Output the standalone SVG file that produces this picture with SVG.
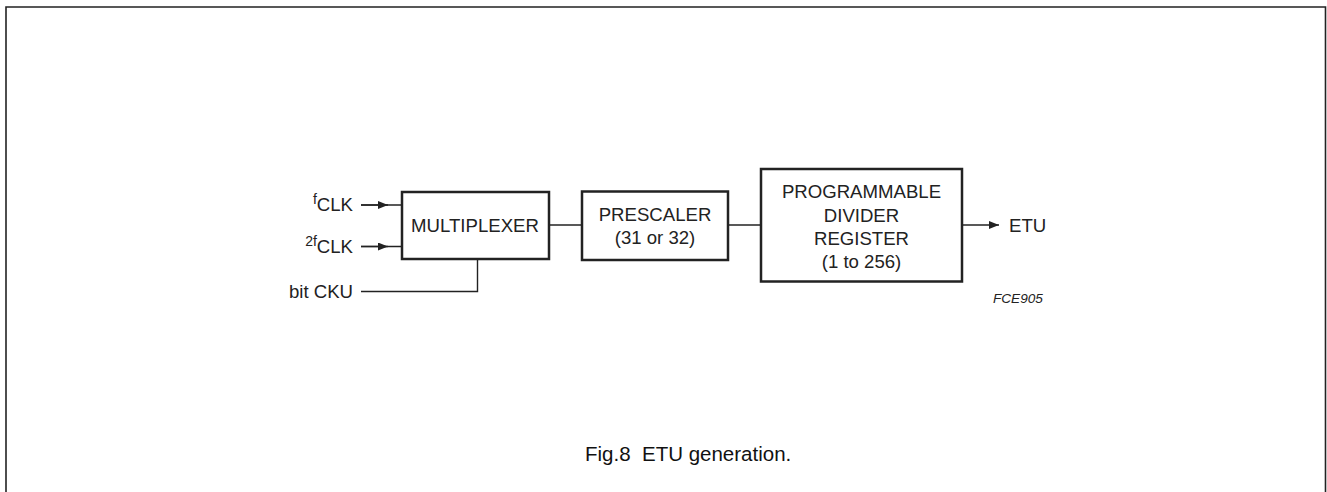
<svg xmlns="http://www.w3.org/2000/svg" width="1327" height="492" viewBox="0 0 1327 492">
<style>
.box{fill:#fff;stroke:#222;stroke-width:2.5}
.ln{fill:none;stroke:#222;stroke-width:1.4}
text{font-family:"Liberation Sans",Arial,sans-serif;fill:#222}
.t{font-size:18.6px}
.sup{font-size:14px}
.c{text-anchor:middle}
.code{font-size:13.6px;font-style:italic}
.cap{font-size:20.5px;white-space:pre;fill:#111}
</style>
<defs>
<marker id="ah" viewBox="0 0 10 8" refX="10" refY="4" markerWidth="10" markerHeight="8" markerUnits="userSpaceOnUse" orient="auto">
<path d="M0,0 L10,4 L0,8 Z" fill="#222"/>
</marker>
</defs>
<rect width="1327" height="492" fill="#fff"/>
<path d="M6,492 V7 H1325.5 V492" fill="none" stroke="#222" stroke-width="1.6"/>
<g id="connectors">
<path class="ln" d="M361,205 H402"/>
<path class="ln" d="M361,205 H388" marker-end="url(#ah)"/>
<path class="ln" d="M361,246.5 H402"/>
<path class="ln" d="M361,246.5 H388" marker-end="url(#ah)"/>
<path class="ln" d="M361,291.5 H477.5 V259"/>
<path class="ln" d="M549,225 H582"/>
<path class="ln" d="M728,225 H761"/>
<path class="ln" d="M962,225 H999" marker-end="url(#ah)"/>
</g>
<g id="inputs">
<text class="t" x="353" y="211" text-anchor="end"><tspan class="sup" dy="-7">f</tspan><tspan dy="7">CLK</tspan></text>
<text class="t" x="353" y="252.5" text-anchor="end"><tspan class="sup" dy="-7">2f</tspan><tspan dy="7">CLK</tspan></text>
<text class="t" x="353" y="298" text-anchor="end">bit CKU</text>
</g>
<g id="multiplexer">
<rect class="box" x="402" y="192" width="147" height="67"/>
<text class="t c" x="475" y="231.5">MULTIPLEXER</text>
</g>
<g id="prescaler">
<rect class="box" x="582" y="191.5" width="146" height="68.5"/>
<text class="t c" x="655" y="220.5">PRESCALER</text>
<text class="t c" x="655" y="243.5">(31 or 32)</text>
</g>
<g id="divider">
<rect class="box" x="761" y="169" width="201" height="112.5"/>
<text class="t c" x="861.5" y="197.5">PROGRAMMABLE</text>
<text class="t c" x="861.5" y="221.5">DIVIDER</text>
<text class="t c" x="861.5" y="245">REGISTER</text>
<text class="t c" x="861.5" y="268">(1 to 256)</text>
</g>
<g id="etu">
<text class="t" x="1009" y="232">ETU</text>
</g>
<text class="code" x="993" y="303">FCE905</text>
<text class="cap" x="585" y="461">Fig.8  ETU generation.</text>
</svg>
